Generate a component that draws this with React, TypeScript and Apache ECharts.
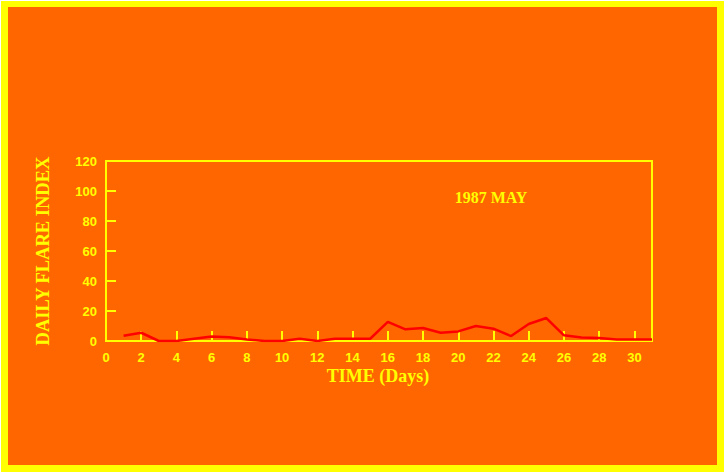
import React, { useEffect, useRef } from "react";
import * as echarts from "echarts";

const days = [1,2,3,4,5,6,7,8,9,10,11,12,13,14,15,16,17,18,19,20,21,22,23,24,25,26,27,28,29,30,31];
const flareIndex = [3.5,5.5,0,0,1.5,3,2.5,1,0,0,1.5,0,1.5,1.5,1.5,12.7,7.8,8.7,5.5,6.4,10,8.2,3.3,11.3,15.3,3.8,2.4,2,1,1,1];
const xLabelValues = [0,2,4,6,8,10,12,14,16,18,20,22,24,26,28,30];
const xTickValues = [2,4,6,8,10,12,14,16,18,20,22,24,26,28,30];
const yTickValues = [0,20,40,60,80,100,120];
const chartTitle = "1987 MAY";
const xTitle = "TIME (Days)";
const yTitle = "DAILY FLARE INDEX";

const YELLOW = "#ffff00";
const ORANGE = "#ff6600";
const RED = "#ff0000";

export default function App() {
  const ref = useRef<HTMLDivElement>(null);
  useEffect(() => {
    if (!ref.current) return;
    const chart = echarts.init(ref.current, null, { renderer: "svg" });
    chart.setOption({
      animation: false,
      backgroundColor: "#ffffff",
      graphic: [
        { type: "rect", z: -10, shape: { x: 1, y: 1, width: 723, height: 471 }, style: { fill: YELLOW } },
        { type: "rect", z: -9, shape: { x: 8, y: 7, width: 709, height: 458 }, style: { fill: ORANGE } },
        {
          type: "text", x: 491, y: 197,
          style: { text: chartTitle, fill: YELLOW, font: "bold 16px 'Liberation Serif'", align: "center", verticalAlign: "middle" },
        },
        {
          type: "text", x: 378, y: 376,
          style: { text: xTitle, fill: YELLOW, font: "bold 18px 'Liberation Serif'", align: "center", verticalAlign: "middle" },
        },
        {
          type: "text", x: 43, y: 251, rotation: Math.PI / 2,
          style: { text: yTitle, fill: YELLOW, font: "bold 18.5px 'Liberation Serif'", align: "center", verticalAlign: "middle" },
        },
      ],
      grid: {
        left: 106, top: 161, width: 546, height: 180,
        show: true, borderColor: YELLOW, borderWidth: 2, backgroundColor: "transparent",
      },
      xAxis: {
        type: "value", min: 0, max: 31,
        axisLine: { show: true, lineStyle: { color: YELLOW, width: 2 } },
        axisTick: { show: true, inside: true, length: 10, customValues: xTickValues, lineStyle: { color: YELLOW, width: 2 } },
        axisLabel: { customValues: xLabelValues, color: YELLOW, fontWeight: "bold", fontSize: 13, fontFamily: "Liberation Sans", margin: 10 },
        splitLine: { show: false },
      },
      yAxis: {
        type: "value", min: 0, max: 120, interval: 20,
        axisLine: { show: true, lineStyle: { color: YELLOW, width: 2 } },
        axisTick: { show: true, inside: true, length: 10, customValues: yTickValues, lineStyle: { color: YELLOW, width: 2 } },
        axisLabel: { color: YELLOW, fontWeight: "bold", fontSize: 13, fontFamily: "Liberation Sans", margin: 9 },
        splitLine: { show: false },
      },
      series: [
        {
          type: "line",
          data: days.map((d, i) => [d, flareIndex[i]]),
          showSymbol: false,
          lineStyle: { color: RED, width: 2.5 },
          z: 5,
        },
      ],
    });
    return () => chart.dispose();
  }, []);
  return (
    <div style={{ position: "fixed", left: 0, top: 0 }}>
      <div ref={ref} style={{ width: 726, height: 473 }} />
    </div>
  );
}
